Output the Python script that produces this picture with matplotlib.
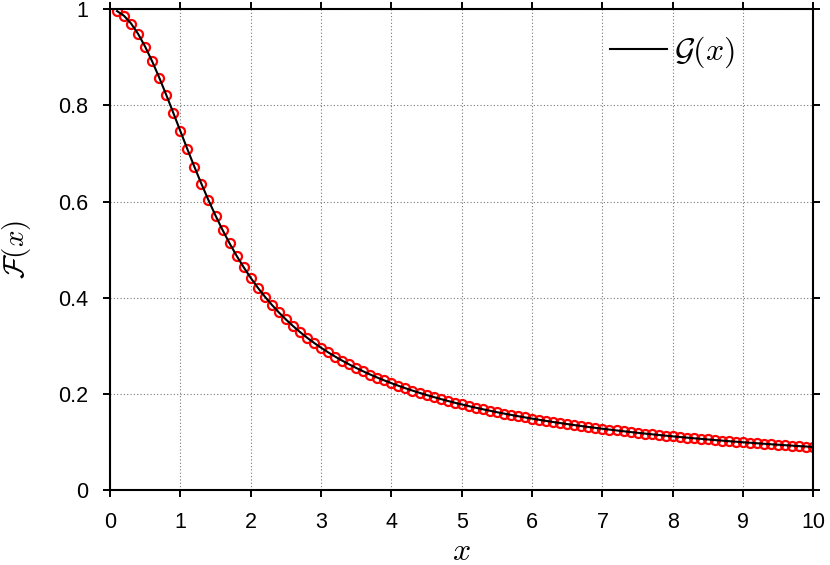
import numpy as np
from matplotlib import pyplot as plt

# sample grid (0.1 .. 10.0, step 0.1)
x_vals = np.linspace(0.1, 10.0, 100)
f_vals = [0.99668, 0.98683, 0.97079, 0.94914, 0.92256, 0.89192, 0.85812, 0.82209, 0.78471, 0.74682,
          0.70915, 0.67229, 0.63673, 0.60282, 0.57079, 0.54080, 0.51286, 0.48698, 0.46308, 0.44104,
          0.42076, 0.40208, 0.38488, 0.36901, 0.35435, 0.34078, 0.32819, 0.31648, 0.30559, 0.29540,
          0.28588, 0.27695, 0.26855, 0.26066, 0.25321, 0.24617, 0.23952, 0.23322, 0.22724, 0.22156,
          0.21615, 0.21101, 0.20610, 0.20142, 0.19694, 0.19266, 0.18856, 0.18463, 0.18086, 0.17725,
          0.17377, 0.17043, 0.16721, 0.16412, 0.16113, 0.15825, 0.15548, 0.15280, 0.15021, 0.14770,
          0.14528, 0.14294, 0.14067, 0.13847, 0.13634, 0.13428, 0.13227, 0.13033, 0.12844, 0.12660,
          0.12482, 0.12309, 0.12140, 0.11976, 0.11816, 0.11661, 0.11509, 0.11362, 0.11218, 0.11078,
          0.10941, 0.10808, 0.10677, 0.10550, 0.10426, 0.10305, 0.10186, 0.10071, 0.09958, 0.09847,
          0.09739, 0.09633, 0.09529, 0.09428, 0.09329, 0.09232, 0.09136, 0.09043, 0.08952, 0.08862]
x_ticks = [0, 1, 2, 3, 4, 5, 6, 7, 8, 9, 10]
y_ticks = [0, 0.2, 0.4, 0.6, 0.8, 1]

plt.rcParams['mathtext.fontset'] = 'cm'
plt.rcParams['font.family'] = ['Liberation Sans', 'DejaVu Sans']

fig = plt.figure(figsize=(8.3, 5.65), dpi=100)
ax = fig.add_axes([0.1325, 0.1336, 0.8476, 0.8496])

ax.plot(x_vals, f_vals, linestyle='none', marker='o', markersize=6.5,
        markerfacecolor='none', markeredgecolor='red', markeredgewidth=1.6, zorder=2)
ax.plot(x_vals, f_vals, color='black', linewidth=1.5, label=r'$\mathcal{G}(x)$', zorder=3)

ax.set_xlim(0, 10)
ax.set_ylim(0, 1)
ax.set_xticks(x_ticks)
ax.set_yticks(y_ticks)
ax.set_yticklabels(['%g' % v for v in y_ticks])
ax.tick_params(direction='out', length=5, width=1.4, labelsize=15.5, pad=11,
               top=True, right=True)
for s in ax.spines.values():
    s.set_linewidth(1.5)
ax.grid(True, linestyle=(0, (1, 2)), color='#777777', linewidth=0.8)

ax.set_xlabel(r'$x$', fontsize=23)
ax.xaxis.set_label_coords(0.5, -0.098)
ax.set_ylabel(r'$\mathcal{F}(x)$', fontsize=21)
ax.yaxis.set_label_coords(-0.11, 0.5)

ax.legend(loc='center right', frameon=False, fontsize=23, handlelength=1.8,
          handletextpad=0.2, borderpad=0, borderaxespad=0,
          bbox_to_anchor=(0.888, 0.911))

plt.savefig('out.png', dpi=100)
plt.close()
